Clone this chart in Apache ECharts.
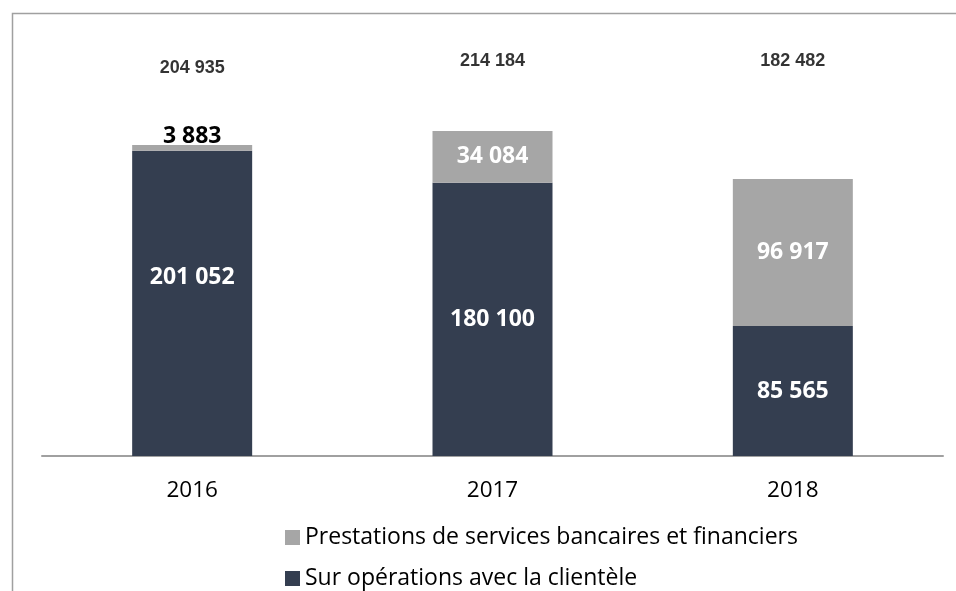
<!DOCTYPE html>
<html>
<head>
<meta charset="utf-8">
<script src="https://cdn.jsdelivr.net/npm/echarts@6/dist/echarts.min.js"></script>
<style>
html, body { margin: 0; padding: 0; background: #fff; }
#chart { width: 956px; height: 591px; }
</style>
</head>
<body>
<div id="chart"></div>
<script>
// données
const years = ['2016', '2017', '2018']
const clientele = [201052, 180100, 85565]
const prestations = [3883, 34084, 96917]
const totals = [204935, 214184, 182482]
const totalLabelLevel = 260000

const navy = '#343e50'
const grey = '#a6a6a6'
const nameClientele = 'Sur opérations avec la clientèle'
const namePrestations = 'Prestations de services bancaires et financiers'

function fmt(v) {
    return String(v).replace(/\B(?=(\d{3})+(?!\d))/g, ' ')
}

const chart = echarts.init(document.getElementById('chart'))

// le libellé 2016 est un peu remonté dans l'original
let clienteleData = clientele.map((v, i) => i == 0 ? { value: v, label: { offset: [0, -26] } } : v)
// petite valeur 2016 : libellé au-dessus, en noir
let prestationsData = prestations.map((v, i) => i == 0 ? {
    value: v,
    label: { position: 'top', color: '#000', distance: 0, offset: [0, 3] }
} : v)
let totalData = totals.map((t, i) => ({
    value: [years[i], totalLabelLevel],
    total: t,
    label: i == 0 ? { offset: [0, 7] } : undefined
}))

const legendText = {
    fontFamily: 'Open Sans',
    fontSize: 23,
    color: '#000'
}
const barLabel = {
    show: true,
    position: 'inside',
    color: '#fff',
    fontFamily: 'Open Sans',
    fontWeight: 'bold',
    fontSize: 23,
    formatter: p => fmt(p.value)
}

chart.setOption({
    animation: false,
    graphic: [{
        type: 'rect',
        left: 10,
        top: 11,
        silent: true,
        shape: { width: 1200, height: 800 },
        style: { fill: 'none', stroke: '#a0a0a0', lineWidth: 1.5 }
    }],
    grid: {
        left: 42,
        right: 13,
        top: 31,
        bottom: 135
    },
    legend: [{
        left: 280,
        top: 521,
        itemWidth: 15,
        itemHeight: 15,
        icon: 'rect',
        data: [namePrestations],
        textStyle: legendText
    }, {
        left: 280,
        top: 562,
        itemWidth: 15,
        itemHeight: 15,
        icon: 'rect',
        data: [nameClientele],
        textStyle: legendText
    }],
    xAxis: {
        type: 'category',
        data: years,
        axisLine: { lineStyle: { color: '#a0a0a0', width: 2 } },
        axisTick: { show: false },
        axisLabel: {
            margin: 23,
            fontFamily: 'Open Sans',
            fontSize: 22.5,
            color: '#000'
        }
    },
    yAxis: {
        type: 'value',
        min: 0,
        max: 280000,
        show: false,
        splitLine: { show: false }
    },
    series: [{
        name: nameClientele,
        type: 'bar',
        stack: 'total',
        barWidth: 120,
        itemStyle: { color: navy },
        label: barLabel,
        data: clienteleData
    }, {
        name: namePrestations,
        type: 'bar',
        stack: 'total',
        barWidth: 120,
        itemStyle: { color: grey },
        label: barLabel,
        data: prestationsData
    }, {
        name: 'total',
        type: 'scatter',
        symbolSize: 0,
        silent: true,
        label: {
            show: true,
            position: 'inside',
            color: '#000',
            fontFamily: 'Liberation Sans',
            fontWeight: 'bold',
            fontSize: 18,
            formatter: p => fmt(p.data.total)
        },
        data: totalData
    }]
})
</script>
</body>
</html>
